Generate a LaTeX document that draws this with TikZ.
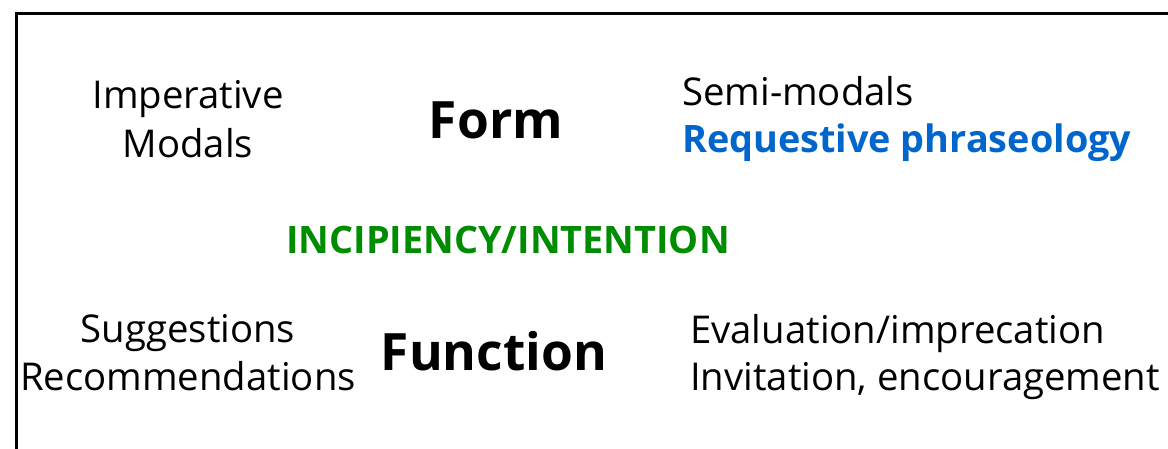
\documentclass[tikz,border=0pt]{standalone}
\usepackage{fontspec}
\setmainfont{Open Sans}
\definecolor{reqblue}{HTML}{0066CC}
\definecolor{incgreen}{HTML}{008C00}
\begin{document}
\begin{tikzpicture}[x=1pt,y=-1pt,
  txt/.style={inner sep=0pt,font=\fontsize{38.3}{44}\selectfont},
  title/.style={inner sep=0pt,font=\fontsize{51.5}{58}\selectfont\bfseries},
  accent/.style={inner sep=0pt,font=\fontsize{37.8}{44}\selectfont\bfseries}]
\useasboundingbox (0,0) rectangle (1168,448);
\begin{scope}
\clip (0,0) rectangle (1168,448);
\draw[line width=3.5pt] (16.5,13.5) rectangle (1200,480);
\end{scope}
\node[txt,anchor=base] (imp) at (188,108) {Imperative};
\node[txt,anchor=base] (mod) at (188,157) {Modals};
\node[title,anchor=base] (form) at (496,138) {Form};
\node[txt,anchor=base west] (semi) at (682,105) {Semi-modals};
\node[accent,text=reqblue,anchor=base west] (req) at (682,152) {Requestive phraseology};
\node[accent,text=incgreen,anchor=base] (inc) at (508,253) {INCIPIENCY/INTENTION};
\node[txt,anchor=base] (sug) at (188,342) {Suggestions};
\node[txt,anchor=base] (rec) at (188,390) {Recommendations};
\node[title,anchor=base] (fun) at (494,370) {Function};
\node[txt,anchor=base west] (eval) at (690,343) {Evaluation/imprecation};
\node[txt,anchor=base west] (inv) at (690,390) {Invitation, encouragement};
\end{tikzpicture}
\end{document}
